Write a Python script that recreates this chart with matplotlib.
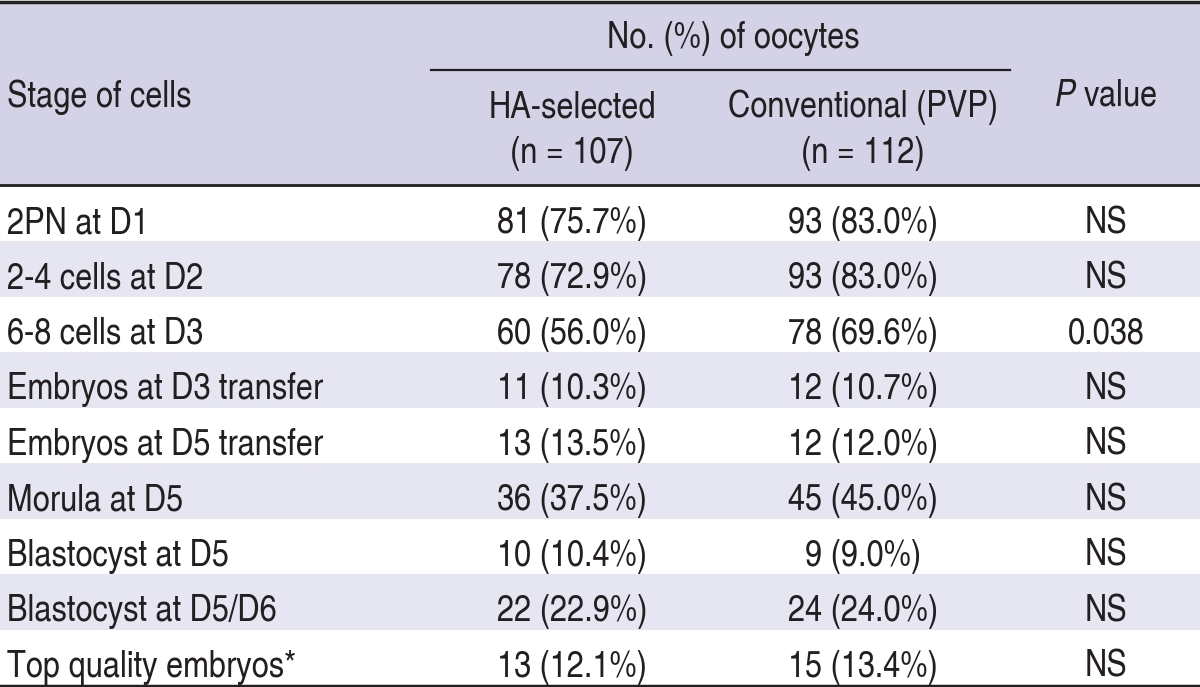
import matplotlib
matplotlib.use("Agg")
import matplotlib.pyplot as plt

stages = ["2PN at D1", "2-4 cells at D2", "6-8 cells at D3", "Embryos at D3 transfer",
          "Embryos at D5 transfer", "Morula at D5", "Blastocyst at D5",
          "Blastocyst at D5/D6", "Top quality embryos*"]
ha_selected = ["81 (75.7%)", "78 (72.9%)", "60 (56.0%)", "11 (10.3%)", "13 (13.5%)",
               "36 (37.5%)", "10 (10.4%)", "22 (22.9%)", "13 (12.1%)"]
conventional = ["93 (83.0%)", "93 (83.0%)", "78 (69.6%)", "12 (10.7%)", "12 (12.0%)",
                "45 (45.0%)", "9 (9.0%)", "24 (24.0%)", "15 (13.4%)"]
p_values = ["NS", "NS", "0.038", "NS", "NS", "NS", "NS", "NS", "NS"]

FONT = "TeX Gyre Heros Cn"
plt.rcParams['font.family'] = [FONT, 'DejaVu Sans']
plt.rcParams['mathtext.fontset'] = 'custom'
plt.rcParams['mathtext.rm'] = FONT
plt.rcParams['mathtext.it'] = FONT + ':italic'

W, H = 1200, 687
fig = plt.figure(figsize=(W / 100, H / 100), dpi=100)
ax = fig.add_axes([0, 0, 1, 1])
ax.set_xlim(0, W)
ax.set_ylim(H, 0)
ax.axis("off")

header_bg = "#D3D2E7"
shade_bg = "#E6E5F2"
txt = "#231F20"
fs = 27

ax.add_patch(plt.Rectangle((0, 2), W, 183, color=header_bg, lw=0))
row_top = 186
row_h = (685 - row_top) / len(stages)
for i in range(len(stages)):
    if i % 2 == 1:
        ax.add_patch(plt.Rectangle((0, row_top + i * row_h), W, row_h, color=shade_bg, lw=0))

ax.plot([0, W], [1.5, 1.5], color=txt, lw=2.5)
ax.plot([0, W], [184.5, 184.5], color=txt, lw=2.0)
ax.plot([0, W], [685.5, 685.5], color=txt, lw=2.5)
ax.plot([431, 1010], [69.5, 69.5], color=txt, lw=1.6)

x_stage, x_ha, x_conv, x_p = 7, 572, 863, 1106

kw = dict(fontsize=fs, va="baseline", color=txt)
ax.text(733, 48, "No. (%) of oocytes", ha="center", **kw)
ax.text(x_stage, 107, "Stage of cells", ha="left", **kw)
ax.text(x_ha, 117, "HA-selected", ha="center", **kw)
ax.text(x_ha, 163, "(n = 107)", ha="center", **kw)
ax.text(x_conv, 117, "Conventional (PVP)", ha="center", **kw)
ax.text(x_conv, 163, "(n = 112)", ha="center", **kw)
ax.text(x_p, 106, r"$P$ value", ha="center", **kw)

for i in range(len(stages)):
    y = row_top + i * row_h + 47
    ax.text(x_stage, y, stages[i], ha="left", **kw)
    ax.text(x_ha, y, ha_selected[i], ha="center", **kw)
    ax.text(x_conv, y, conventional[i], ha="center", **kw)
    ax.text(x_p, y, p_values[i], ha="center", **kw)

fig.savefig("out.png", dpi=100)
